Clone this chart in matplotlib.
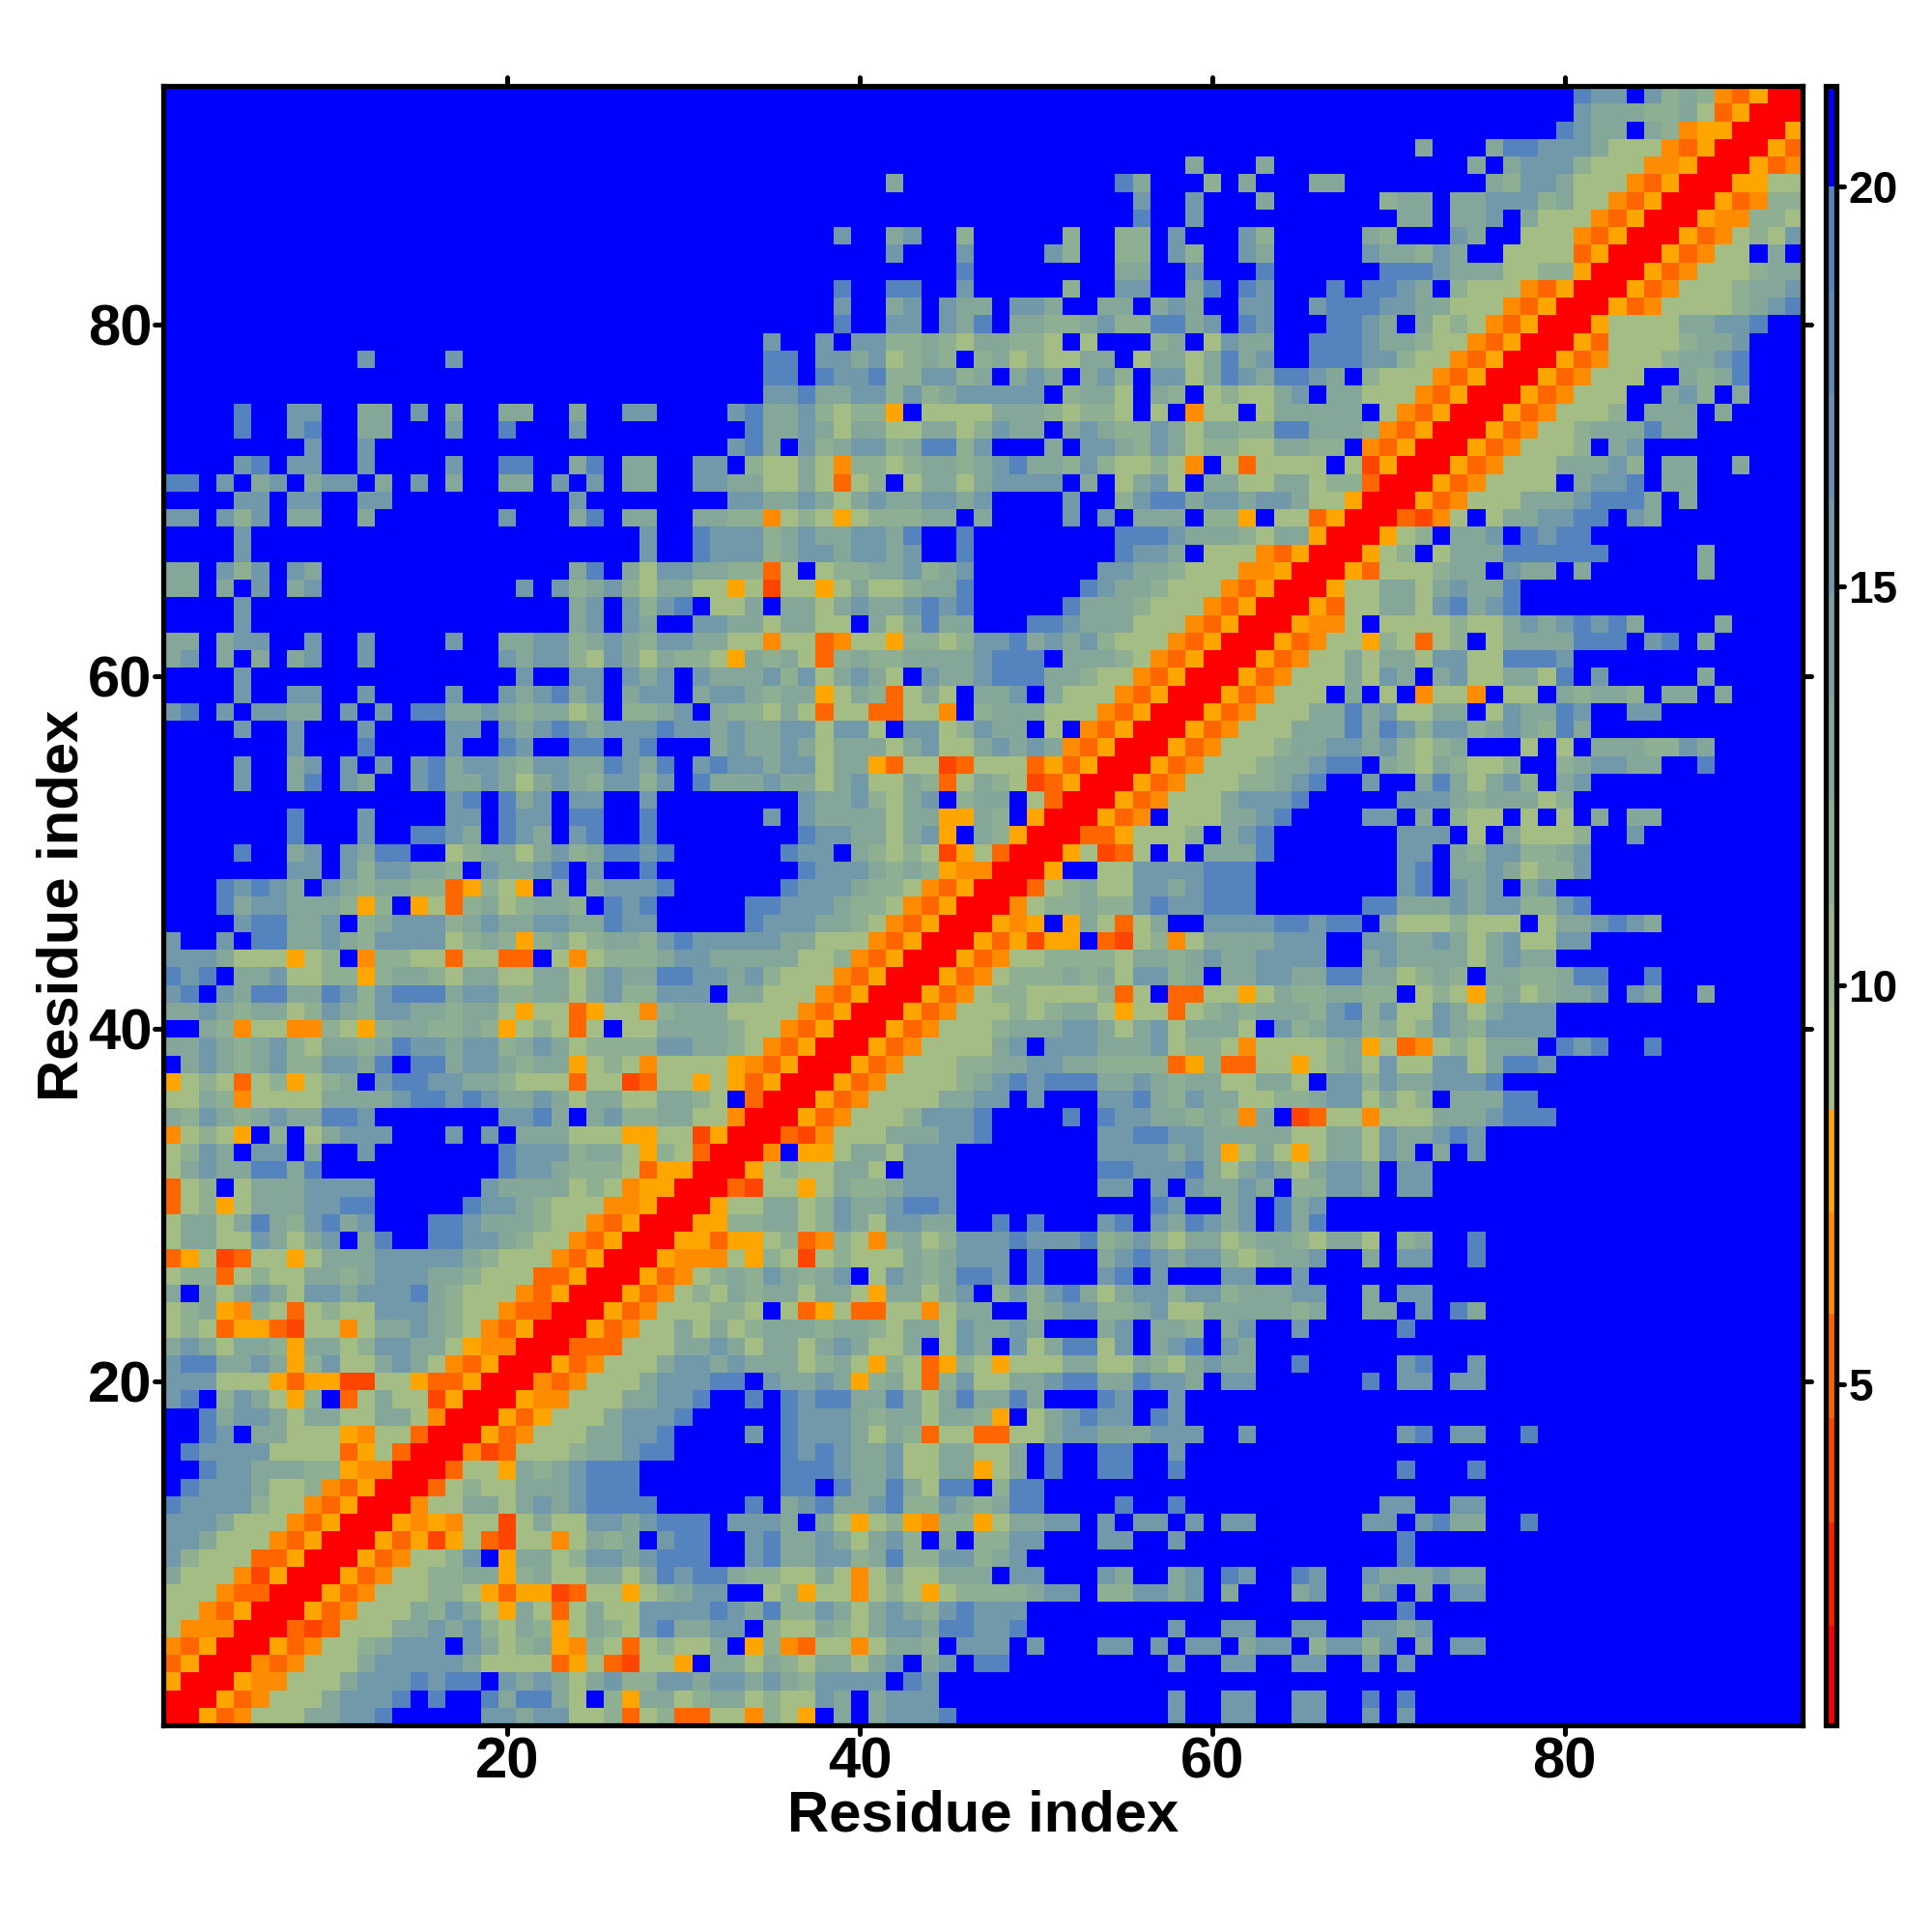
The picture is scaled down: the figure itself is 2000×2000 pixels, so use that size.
import numpy as np
import matplotlib
matplotlib.use('Agg')
import matplotlib.pyplot as plt
from matplotlib.colors import ListedColormap, BoundaryNorm, to_rgb
from matplotlib.markers import MarkerStyle

plt.rcParams['font.family'] = ['Liberation Sans', 'DejaVu Sans']
plt.rcParams['font.weight'] = 'bold'

# distance map, top row (residue 93) first, in groups of ten columns
# . beyond the scale, R red, a o m y the orange steps, 1-5 sage to steel blue
ROWS = [
".......... .......... .......... .......... .......... .......... .......... .......... 544.4232mo yRR",
".......... .......... .......... .......... .......... .......... .......... .......... 43332231oy RRR",
".......... .......... .......... .......... .......... .......... .......... .........5 433.32myyR RRy",
".......... .......... .......... .......... .......... .......... .......... .3...35544 43111moyRR Ryo",
".......... .......... .......... .......... .......... ........3. ..3....... ....3.3444 2111mmyRRR yom",
".......... .......... .......... .......... .3........ ....53...2 .3...33... .....32443 111moyRRRy y11",
".......... .......... .......... .......... .......... .....4..4. ..3......2 33.3344423 11moyRRRyo m22",
".......... .......... .......... .......... .......... .....5..4. .......... 33.334.311 1moyRRRymm 221",
".......... .......... .......... ........4. .34..2.... .2..22.4.. .42.....32 ...43..111 moyRRRyom1 214",
".......... .......... .......... .......... .4...4.... 42..22.42. .43.....43 3243..1111 oyRRRyom11 .3.",
".......... .......... .......... .......... .....5.... ....33..4. ..5......5 5543331122 yRRRyom111 233",
".......... .......... .......... ........5. .55..4.... .2..44..35 .54...5.55 43.2111moy RRRyom1112 334",
".......... .......... .......... ........4. .34.433.44 3..33.343. .44..45554 433111moyR RRyom11112 345",
".......... .......... .......... ........5. .44.435.33 2234225534 .54...5543 .3121moyRR Ry11113344 5..",
".......... .......... .......... ....4..4.4 4223213322 1.1...23.1 433..55543 3211moyRRR yo11112334 ...",
".......... .4....4... .......... ....55.443 41232.2312 1133.13313 534..55544 211moyRRRy om11123345 ...",
".......... .......... .......... ....55.544 5224423.34 3.342.4413 5435543.21 11moyRRRyo m111..3235 ...",
".......... .......... .......... ....445334 4242344444 .2331.32.1 21134.3311 1moyRRRyom 111..342.3 ...",
"....5..44. .33.4.3..3 3..3..44.. ..45334212 2y.1111333 21221.1.m1 1.133333.1 moyRRRyom1 112.333.3. ...",
"....5..45. .33...4..5 ...4...... ...5334313 3113312433 .343224313 322553332m oyRRRyom11 2333533... ...",
"........4. .4........ .......... ..453.4234 4235524... 3.44324312 2113322.mo yRRRyom111 2.34...... ...",
"....45.44. .4....4..5 5..35.33.. 44.21131m2 2123323453 32421121m. 1o1111.1ay RRRyom1113 3342.33..3 ...",
"55.4.34.34 4.3.4.3..3 3.4.4.33.. 44331131o1 2.13313444 4.3.1341.3 31133122oR RRyom1111. 3445.33... ...",
"....44.44. .44....... ...4...... ..44334313 4334434... .4..245534 4344311yRR Ryom111333 45553.3... ...",
"44.424.33. .3.......4 ...35.33.. 3322m121y1 22233.3... .4.4.333.2 2y.11oyRRR oam1.13344 55.43..... ...",
"....4..... .......... .......4.. 5444234334 435..5.... ....555433 32133yRRRy 12.334.545 5......... ...",
"....4..... .......... .......4.. 5444234434 434..5.... ....5443.1 11moyRRRy1 2.13335555 55.....3.. ...",
"33.424.43. .......... ...35.3144 3322o1.122 334234.... ...4433211 1mmyRRRyo1 11233.433. 3......3.. ...",
"33.3.4.34. .......... 4.42342133 11y1a11y13 112335.... ..54332111 moyRRRy113 3134335... .......... ...",
"....4..... .......... ...34.4245 .113.33134 334545.... .53332111m oyRRRyo113 3145345... .......... ...",
"....4..... .......... ...34.43.. 443313311. 313533...5 54333111mo yRRRymm1.1 1112113434 5453....3. ...",
"33.344..4. .4....4..3 3442343244 3311m11om1 1y22124453 4342111moy RRRyom11y2 1o12.13333 555.45.3.. ...",
"34.3.3.34. .4.......4 3442143132 21y3231o23 2233334555 .33321moyR RRyom11313 3144115554 .......... ...",
"....4..... .......... 4..44.434. 4333424134 31.4334555 33211moyRR Ryom111314 3.34113315 .4.....3.. ...",
"....4..44. .4....4..4 34534.344. 3443233y13 2o131.334. 3111moyRRR yom111.3.1 .m11m.11.3 2332.33.3. ...",
"45.4.4433. 4.4.553343 23312.2234 .322131o11 oo11m.2333 111moyRRRy om11133534 1133.14335 4..44..... ...",
"....4..4.. .4....44.4 3454344454 4343344144 1.4412433. 1.moyRRRyo m111333535 4244234325 3......... ...",
".......4.. .5....4..5 4..55.45.. .343343133 3134113434 3moyRRRyom 1112334434 2123...1.1 .3332243.. ...",
"....4..34. 4.4.453443 244335435. 4544344133 yo11ao111o yoyRRRyom1 11233455.3 2132112..2 34433..5.. ...",
"....4..35. 43..453343 134324424. 5333433134 1132o1321a oyRRRyom11 122345..4. .3531342.3 4......... ...",
".......... ......45.5 34.44..4.. ......4334 2134.233.1 oRRRyom111 34445..... 4443233312 .......... ...",
".......5.. .4....44.5 44.55..5.. ....4.4333 3133yy32.y RRRyom.111 3345....44 .3.211.1.1 .3.33..... ...",
".......5.. .4..5543.5 43.45..5.. ......5443 3134y.32yR RRooy1112. 345....... 444.1.3111 2..4...... ...",
"....5..34. 4355..1233 134235545. .....544.3 2121ay1oRR Ry1ao1.1.3 335....... 44.3244223 4......... ...",
".......44. 4244332.43 345.4..5.. ......5444 3232ymmRRR y..1144445 55........ 45.3343122 4......... ...",
"...54543.4 323322oy21 y.3.34445. .....54443 221moyRRRo 1231144345 55........ 45.434.34. .......... ...",
"...5344333 2y2.y1o231 2332.545.. ...5544432 21moyRRRm1 2232245445 55......55 3334344224 5......... ...",
"....455334 .234442343 34433544.. ...5444332 1moyRRRymy .y31o13..4 44455455.3 1112111.13 34543..... ...",
"4..4.55334 3244441232 y231233245 4444433111 moyRRRyoya yy.oa12m13 333444..44 3343134114 4......... ...",
"4443111y12 .m2211o11o o.1m122234 433333112m oyRRRyom11 2222133234 334444..34 333313433. .......... ...",
"545.334112 2y23321331 1331343355 44342111mo yRRRyom122 232314423. 3344335533 1232.33223 55..5..... ...",
"45.4355335 4245553442 2331342244 4.33111moy RRRyom1221 1112o1.oo1 1y13223322 .121y23123 34.43..3.. ...",
"3343233124 3244332331 y11oy11m23 331111moyR RRyom11121 2331y11o12 3233324524 114313444. .......... ...",
"..32m11mm2 1y2332232y 121o1.1133 33211moyRR Ryom111233 3443134133 31.4234423 124324444. .......... ...",
"3343234213 3235443442 3431222244 3321moyRRR yom111134. 4443334122 1m111123y1 om121333.5 45..5..... ...",
".343234224 435.553443 233y121m11 11ymoyRRRy om11122334 4332222oy2 oo11y12314 114413554. .......... ...",
"y121o12y12 3.45544332 111o11ao11 y1yoyRRRyo m111123454 5553343233 11331.4424 334445.... .......... ...",
"1132m11113 3334554543 3431331133 21.oRRRyom 11113344.4 ...4453243 3112234413 12.33355.. .......... ...",
"3243234335 54.......4 453.342233 11mRRRyom1 1124445... .5.5443323 2m3.ao11m1 113334555. .......... ...",
"m121y.2.13 444...4.4. 333111yy11 ayRRRoam11 1333445... ...4455443 3333113314 33454..... .......... ...",
"1243.44.3. .4.......5 4442331y21 oRRRm.yy13 31444..... ...4444343 y131y13314 3.3.4..... .......... ...",
"134335535. .........5 4432221oyy RRRy121133 1.444..... ...5544453 134313443. 44........ .......... ...",
"o12.133344 44......43 333121myyR RRoa11y132 23444..... ...44.4.43 343.22443. 44........ .......... ...",
"o12y133344 55.....544 32111mmyRR Ry11331243 34554..... ......54.. 34.534.... .......... .......... ...",
"1331353245 34...55433 3211moyRRR yy22331243 14433..5.5 ...45.4354 34.535.... .......... .......... ...",
"1331143134 .35..55443 211moyRRRy yoyy12om21 m231244454 4452342133 123321331. 23..5..... .......... ...",
"oy1ao11y13 3344444321 11moyRRRym mm1y21a121 11323444.5 ...3454344 212334..3. 44..5..... .......... ...",
"122o121133 2344433211 1ooyRRRyom 123243234. 14323554.5 ...45.4... 44..4..... .......... .......... ...",
"3.31343144 3444532111 moyRRRyom1 2132331331 y33134.242 4531344244 233344..3. 44........ .......... ...",
"123ym21o12 114443211m ooRRRyom11 1221.1oy1o o11m133..2 3442234113 333323..33 .4.53..... .......... ...",
"121oyyoa11 m1334321mo yRRRyom113 1312333233 2133143343 ...34.332. 34..4..... 5......... .......... ...",
"3431332y33 1244331ymm RRRooo1113 3431331343 113.143.41 35514.345. 43........ .......... .......... ...",
"4553343y24 113431moyR RRyom11134 4343331231 y21oy21y11 1331132134 33..5..... 45..4..... .......... ...",
"444111yoyy aa11yooyRR Rmom111344 455.43343y 231o241133 455335443. 44......5. 44.44..... .......... ...",
"45.2431y2. o1311ayRRR ymm1113344 5..5.54553 3531353353 ...54..4.. .......... .......... .......... ...",
"..53443133 11331mRRRy oy11134445 .....54443 2331332y.1 34544.54.. .......... .......... .......... ...",
"..54.33111 ym11oRRRyo m11133445. ...4.54443 132o11oo11 344333444. .4........ 45.44..5.. .......... ...",
".544441111 oy1oRRRmao 111233455. .....54543 341133113. 5..55..4.. .......... .......... .......... ...",
"..54433322 ymmRRRo11y 3234555... .....55543 341133y13. 5..55..5.. .......... 5...5..... .......... ...",
".54443112m oyRRRo1211 3334555... .....55.53 353155.255 .......... .......... .......... .......... ...",
"54444211mo yRRRm11331 34345555.. ...5.34533 4522432355 ....5..5.. .........4 4..44..... .......... ...",
"4443111moy RRRymym11a 1311443455 5.4443.31y 12ym22y133 44.4.44.4. 44......44 .4533..5.. .......... ...",
"443111moyR RRyoyay1oa 11m1323.45 5..4533431 342.3.2244 ...44..4.. .......... 5......... .......... ...",
"42111ooyRR Ryom1124.y 3312443455 5..4533442 352244234. .......... .......... 5......... .......... ...",
"3111mayRRR yom112233y 2311331354 553221131m 1311333.44 ...43..34. 54..54..43 33433..... .......... ...",
"111mooRRRy om111221yo yyao11y123 44..12y11m 121y122223 44.224434. 3...34..34 .3.44..... .......... ...",
"11moyRRRyo m11132431y 31o1311444 4543522431 343245444. .......... .......... 5......... .......... ...",
"1mmmRRRoao 1113343421 32y1321453 344.211321 344355445. .......4.. 44..44..44 34........ .......... ...",
"moyRRRyom1 123444.431 23ym21o121 13.y2mo11m 1332.444.4 ...44.4.44 .344.24424 .3.44..... .......... ...",
"oyRRRmom11 1344444311 11oy1oa11y .331321331 34.34.55.. .......4.. 44..44..4. 4......... .......... ...",
"yRRRymm111 34445455.4 3431342244 3443432444 4.54...... .......... .......... .......... .......... ...",
"RRRyom1113 4445.5..53 5531.2y331 233121143. 3444...... .......4.. 44..44..5. 5......... .......... ...",
"RRyom11133 445.....44 344112o12o o11m21y.3. 34445..... .......4.. 44..44..4. 4......... .......... ...",
]

# value of each code on the colour scale
CODE_VALUES = {'R': 1.4, 'a': 3.9, 'o': 5.2, 'm': 6.5, 'y': 7.8,
               '1': 9.1, '2': 11.0, '3': 13.5, '4': 16.0, '5': 18.8, '.': 20.6}

scale_edges = [0.73, 1.98, 3.27, 4.58, 5.88, 7.15, 8.45, 9.73, 11.0, 12.3, 13.6,
               14.9, 16.1, 17.4, 18.7, 20.0, 21.26]
warm_colors = ['#ff0000', '#ff2000', '#ff4500', '#ff6600', '#ff8c00', '#ffa500']
sage = np.array(to_rgb('#a3bd85'))
steel = np.array(to_rgb('#5483be'))
mid_colors = [tuple(sage + (steel - sage) * i / 8) for i in range(9)]
colors = warm_colors + mid_colors + ['#0000ff']

residues = np.arange(1, 94)
x_ticks = [20, 40, 60, 80]
cbar_ticks = [5, 10, 15, 20]

rows = []
for k, r in enumerate(ROWS):
    r = r.replace(' ', '')
    if len(r) != 93:
        print('row', k + 1, 'has', len(r))
    rows.append([CODE_VALUES[c] for c in r.ljust(93, '.')[:93]])
dist = np.array(rows)[::-1]

cmap = ListedColormap(colors)
norm = BoundaryNorm(scale_edges, cmap.N)


def round_ticks(axis):
    # the reference ticks end in a round cap
    for line in axis.get_ticklines():
        line.set_marker(MarkerStyle(line.get_marker(), capstyle='round'))


W = 2000.0
fig = plt.figure(figsize=(20, 20), dpi=100)
ax = fig.add_axes([169.2 / W, 1 - 1786.0 / W, (1866.0 - 169.2) / W, (1786.0 - 89.2) / W])
edges = np.append(residues - 0.5, 93.5)
mesh = ax.pcolormesh(edges, edges, dist, cmap=cmap, norm=norm, linewidth=0, antialiased=False)
ax.set_xlim(0.5, 93.5)
ax.set_ylim(0.5, 93.5)
ax.set_xticks(x_ticks)
ax.set_yticks(x_ticks)
ax.tick_params(top=True, right=True, length=6.5, width=3.6, labelsize=43, pad=2)
for s in ax.spines.values():
    s.set_linewidth(3.8)
ax.set_xlabel('Residue index', fontsize=43, fontweight='bold', labelpad=0)
ax.set_ylabel('Residue index', fontsize=43, fontweight='bold', labelpad=-1.5)
round_ticks(ax.xaxis)
round_ticks(ax.yaxis)

cax = fig.add_axes([1889.6 / W, 1 - 1786.0 / W, 11.4 / W, (1786.0 - 89.2) / W])
cb = fig.colorbar(mesh, cax=cax, ticks=cbar_ticks, spacing='proportional')
cb.ax.tick_params(length=6, width=3.6, labelsize=33, pad=3)
cb.outline.set_linewidth(3.8)
cb.ax.minorticks_off()
round_ticks(cb.ax.yaxis)

fig.savefig('out.png', dpi=100, facecolor='white')
